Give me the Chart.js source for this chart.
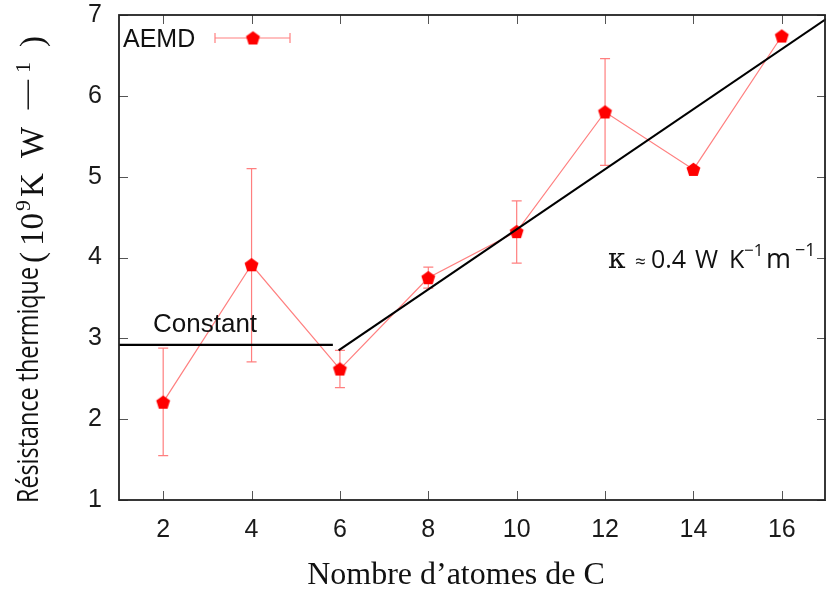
<!DOCTYPE html>
<html><head><meta charset="utf-8">
<script src="https://cdn.jsdelivr.net/npm/chart.js@4"></script>
<style>html,body{margin:0;padding:0;background:#fff}</style>
</head><body>
<canvas id="c" width="827" height="590" style="width:827px;height:590px;display:block"></canvas>
<script>
// ---- data ----
const nCarbon    = [2, 4, 6, 8, 10, 12, 14, 16];
const resistance = [2.21, 3.91, 2.62, 3.75, 4.32, 5.80, 5.09, 6.74];
const errLow     = [1.55, 2.71, 2.39, 3.62, 3.93, 5.14, null, null];
const errHigh    = [2.88, 5.10, 2.85, 3.88, 4.70, 6.46, null, null];
const constX = [1, 5.84];
const constY = [2.92, 2.92];
const fitX = [5.97, 17];
const fitY = [2.85, 6.95];
const xTicks = [2, 4, 6, 8, 10, 12, 14, 16];
const yTicks = [1, 2, 3, 4, 5, 6, 7];

const RED = '#ff0000';
const PALE = 'rgba(255,95,95,0.8)';

function pentagon(r, color) {
  const s = Math.ceil(2 * r + 2);
  const c = document.createElement('canvas');
  c.width = s; c.height = s;
  const g = c.getContext('2d');
  g.fillStyle = color;
  g.beginPath();
  for (let k = 0; k < 5; k++) {
    const a = -Math.PI / 2 + k * 2 * Math.PI / 5;
    const px = s / 2 + r * Math.cos(a), py = s / 2 + r * Math.sin(a) + 0.6;
    k ? g.lineTo(px, py) : g.moveTo(px, py);
  }
  g.closePath(); g.fill();
  return c;
}
const pent = pentagon(7.3, RED);

function stretchedMinus(ctx, font, u0, vCenter, len) {
  ctx.font = font;
  const m = ctx.measureText('−');
  const inkW = m.actualBoundingBoxLeft + m.actualBoundingBoxRight;
  const vb = vCenter + (m.actualBoundingBoxAscent - m.actualBoundingBoxDescent) / 2;
  ctx.save();
  ctx.translate(u0, vb);
  ctx.scale(len / inkW, 1);
  ctx.fillText('−', m.actualBoundingBoxLeft, 0);
  ctx.restore();
}

const deco = {
  id: 'deco',
  afterLayout(chart) {
    const x = chart.scales.x, a = chart.chartArea;
    const target = chart.width - 1;
    if (Math.abs(x.right - target) > 0.5) {
      x.right = target; x.width = target - x.left;
      a.right = target; a.width = target - a.left;
      x.configure();
    }
  },
  beforeDatasetsDraw(chart) {
    const { ctx, scales: { x, y } } = chart;
    ctx.save();
    ctx.strokeStyle = PALE; ctx.lineWidth = 1.2;
    nCarbon.forEach((c, i) => {
      if (errLow[i] == null) return;
      const px = x.getPixelForValue(c);
      const y1 = y.getPixelForValue(errLow[i]), y2 = y.getPixelForValue(errHigh[i]);
      ctx.beginPath();
      ctx.moveTo(px, y1); ctx.lineTo(px, y2);
      ctx.moveTo(px - 5, y1); ctx.lineTo(px + 5, y1);
      ctx.moveTo(px - 5, y2); ctx.lineTo(px + 5, y2);
      ctx.stroke();
    });
    ctx.restore();
  },
  afterDraw(chart) {
    const { ctx, chartArea: a, scales: { x, y } } = chart;
    ctx.save();
    // inward ticks
    ctx.strokeStyle = '#555'; ctx.lineWidth = 1;
    ctx.beginPath();
    xTicks.forEach(v => {
      const p = Math.round(x.getPixelForValue(v)) + 0.5;
      ctx.moveTo(p, a.bottom); ctx.lineTo(p, a.bottom - 9);
      ctx.moveTo(p, a.top); ctx.lineTo(p, a.top + 9);
    });
    yTicks.forEach(v => {
      const p = Math.round(y.getPixelForValue(v)) + 0.5;
      ctx.moveTo(a.left, p); ctx.lineTo(a.left + 9, p);
      ctx.moveTo(a.right, p); ctx.lineTo(a.right - 9, p);
    });
    ctx.stroke();
    // border
    ctx.strokeStyle = '#222'; ctx.lineWidth = 1.8;
    ctx.strokeRect(a.left, a.top, a.right - a.left - 1, a.bottom - a.top);

    ctx.fillStyle = '#111';
    ctx.textBaseline = 'alphabetic';
    ctx.textAlign = 'left';
    // legend
    ctx.font = '25px "Liberation Sans"';
    ctx.fillText('AEMD', 123, 47);
    ctx.strokeStyle = PALE; ctx.lineWidth = 1.2;
    ctx.beginPath();
    ctx.moveTo(215, 38); ctx.lineTo(290, 38);
    ctx.moveTo(215, 33); ctx.lineTo(215, 43);
    ctx.moveTo(290, 33); ctx.lineTo(290, 43);
    ctx.stroke();
    ctx.drawImage(pent, 253 - pent.width / 2, 38 - pent.height / 2);

    // annotations
    ctx.fillStyle = '#111';
    ctx.font = '26px "Liberation Sans"';
    ctx.fillText('Constant', 153, 332);

    const kap = [
      ['κ', 608, 268, '28px "DejaVu Serif"'],
      ['≈', 635, 268, '19px "Open Sans"'],
      ['0.4', 651, 268, '25px "Open Sans"'],
      ['W', 695, 268, '25px "Open Sans"'],
      ['K', 729, 268, '25px "Open Sans"'],
      ['−1', 744, 256, '17px "Open Sans"'],
      ['m', 766, 268, '27px "Open Sans"'],
      ['−1', 795, 256, '18px "Open Sans"']
    ];
    kap.forEach(([t, px, py, f]) => { ctx.font = f; ctx.fillText(t, px, py); });

    // y title (rotated)
    ctx.save();
    ctx.rotate(-Math.PI / 2);
    ctx.fillStyle = '#111';
    ctx.font = '29px "Open Sans"';
    const label = 'Résistance thermique';
    const w = ctx.measureText(label).width;
    ctx.save();
    ctx.translate(-503, 38);
    ctx.scale(236 / w, 1);
    ctx.fillText(label, 0, 0);
    ctx.restore();
    const base = -263, bl = 43, sup = 30;
    const seg = [
      ['(', 0, '33px "Liberation Serif"', bl], ['10', 17, '33px "Liberation Serif"', bl],
      ['9', 52, '22px "Liberation Serif"', sup], ['K', 66, '33px "Liberation Serif"', bl],
      ['W', 105, '33px "Liberation Serif"', bl],
      ['1', 190, '22px "Liberation Serif"', sup], [')', 216, '33px "Liberation Serif"', bl]
    ];
    seg.forEach(([t, off, f, v]) => {
      ctx.font = f;
      ctx.fillText(t, base + off, v);
    });
    stretchedMinus(ctx, '30px "Liberation Serif"', base + 153, 28, 32);
    ctx.restore();

    // x title
    ctx.font = '32px "Liberation Serif"';
    ctx.textAlign = 'center';
    ctx.fillText('Nombre d’atomes de C', 456, 584);
    ctx.restore();
  }
};

new Chart(document.getElementById('c'), {
  type: 'scatter',
  data: {
    datasets: [
      { label: 'fit', data: fitX.map((v, i) => ({ x: v, y: fitY[i] })), showLine: true,
        borderColor: '#000', borderWidth: 2.2, pointRadius: 0, pointHoverRadius: 0 },
      { label: 'Constant', data: constX.map((v, i) => ({ x: v, y: constY[i] })), showLine: true,
        borderColor: '#000', borderWidth: 2.2, pointRadius: 0, pointHoverRadius: 0 },
      { label: 'AEMD', data: nCarbon.map((v, i) => ({ x: v, y: resistance[i] })), showLine: true,
        borderColor: PALE, borderWidth: 1.2, pointStyle: pent, pointRadius: 7,
        backgroundColor: RED }
    ]
  },
  options: {
    responsive: false,
    animation: false,
    devicePixelRatio: 1,
    layout: { padding: { top: 15, right: 1, left: 0, bottom: 0 } },
    plugins: { legend: { display: false }, tooltip: { enabled: false } },
    elements: { line: { tension: 0 } },
    scales: {
      x: {
        type: 'linear', min: 1, max: 17,
        afterBuildTicks: s => { s.ticks = xTicks.map(v => ({ value: v })); },
        afterFit: s => { s.height = 90; s.paddingLeft = 0; s.paddingRight = 0; },
        ticks: { font: { family: 'Liberation Sans', size: 25 }, color: '#1a1a1a', padding: 15,
                 maxRotation: 0, autoSkip: false },
        grid: { display: false, drawTicks: false },
        border: { display: false }
      },
      y: {
        type: 'linear', min: 1, max: 7,
        afterBuildTicks: s => { s.ticks = yTicks.map(v => ({ value: v })); },
        afterFit: s => { s.width = 119; s.paddingTop = 0; s.paddingBottom = 0; },
        ticks: { font: { family: 'Liberation Sans', size: 25 }, color: '#1a1a1a', padding: 17 },
        grid: { display: false, drawTicks: false },
        border: { display: false }
      }
    }
  },
  plugins: [deco]
});
</script>
</body></html>
